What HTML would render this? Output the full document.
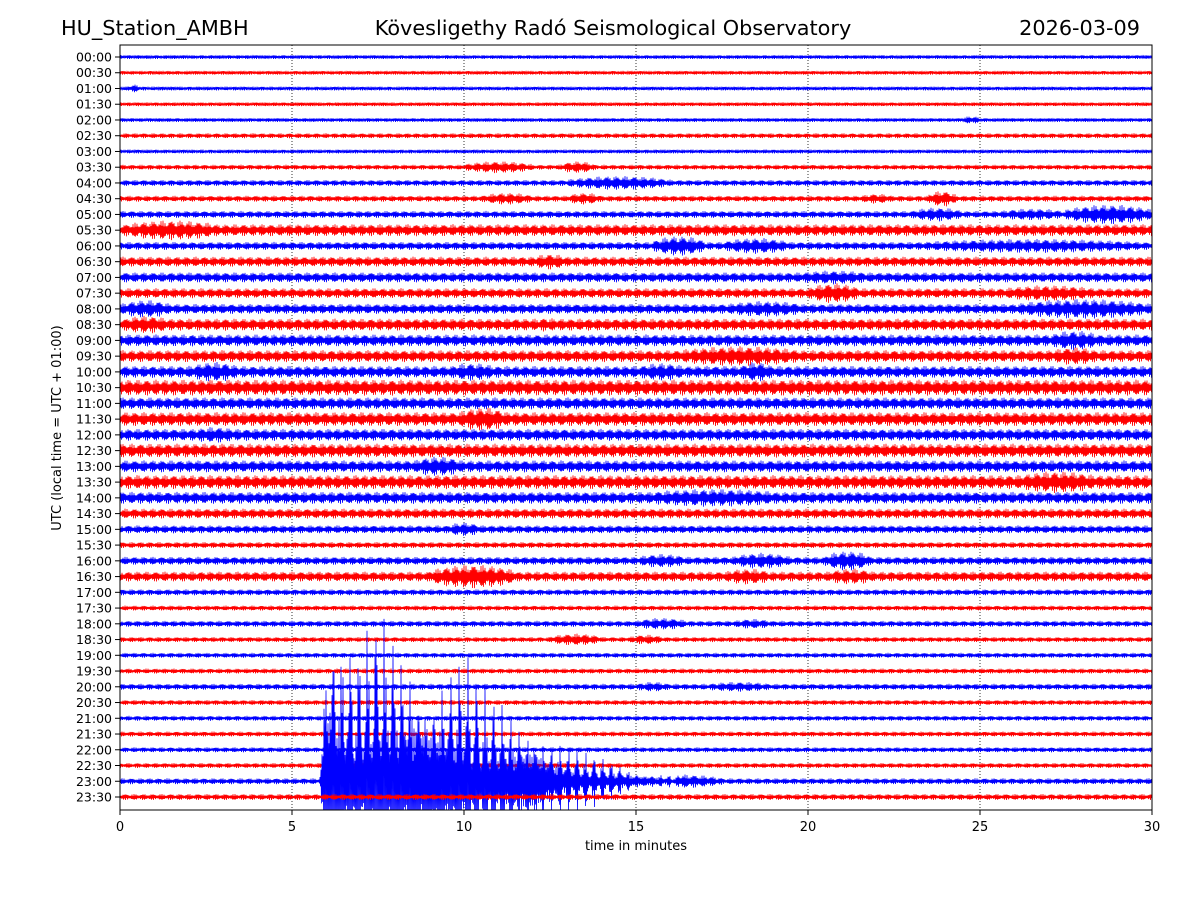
<!DOCTYPE html>
<html><head><meta charset="utf-8">
<style>
html,body{margin:0;background:#fff;overflow:hidden;width:1200px;height:900px;}
svg{display:block;font-family:"DejaVu Sans","Liberation Sans",sans-serif;}
</style></head>
<body>
<svg id="chart" width="1200" height="900" viewBox="0 0 1200 900">
<text x="61" y="35" font-size="20.8">HU_Station_AMBH</text>
<text x="613" y="35" font-size="20.8" text-anchor="middle">Kövesligethy Radó Seismological Observatory</text>
<text x="1140" y="35" font-size="20.8" text-anchor="end">2026-03-09</text>
<defs><clipPath id="pc"><rect x="120" y="45" width="1032" height="765"/></clipPath></defs>
<g id="grid"></g>
<g id="traces" clip-path="url(#pc)"></g>
<rect x="120" y="45" width="1032" height="765" fill="none" stroke="#000" stroke-width="1"/>
<g id="yaxis"></g>
<g id="xaxis"></g>
<text x="636" y="850" font-size="13" text-anchor="middle">time in minutes</text>
<text transform="translate(61,428) rotate(-90)" font-size="13" text-anchor="middle">UTC (local time = UTC + 01:00)</text>
</svg>
<script>
const rowLabels=[];for(let h=0;h<24;h++){for(const m of ["00","30"]){rowLabels.push(String(h).padStart(2,"0")+":"+m);}}
const xTicks=[0,5,10,15,20,25,30];
const baseAmp=[2,2,2,2,2,2.5,2,2.5,3,3,3.5,6,4,5,5,5,5,6,6,6,6,8,6,7,6,7,6,7,6,5,4,3,4,5,3,2.5,3,2.5,2.5,2.5,3,2.5,2.5,2.5,2.5,2.5,3,3];
// events: [row, startMin, endMin, amp]
const events=[[2,0.2,0.6,4],[4,24.5,25,4],[7,10,12,6],[7,12.8,13.8,6],[8,13,16,7],[9,10.5,12,6],[9,13,14,6],[9,21.5,22.5,5],[9,23.5,24.3,8],
[10,23,24.5,7],[10,25.5,27.5,6],[10,27.5,30,10],[11,0,3,10],[12,15.5,17,10],[12,17.5,19.5,8],[12,23,30,7],[13,12,13,8],[14,19.5,22,7],
[15,20,21.5,10],[15,25.5,28.5,8],[16,0,1.5,9],[16,17.5,20,8],[16,26,30,10],[17,0,1.5,9],[17,12,12.8,7],[18,27,28.5,10],[19,16,20,10],[19,27,28.5,9],
[20,2,3.5,10],[20,9.5,11,9],[20,15,16.5,9],[20,18,19,10],[23,9.8,11.3,12],[24,2,3.5,8],[26,8.5,10,10],[27,26,28.5,11],[28,15,19.5,9],[30,9.5,10.5,7],
[32,15,16.5,7],[32,17.8,19.5,8],[32,20.5,21.8,10],[33,9,11.5,12],[33,17.5,19,8],[33,20.5,22,8],[36,15,16.5,6],[36,17.8,19,5],[37,12.5,14,6],[37,14.8,15.8,5],
[40,15,16,5],[40,17,19,5],[46,15,17.5,7]];
// earthquake peak amplitudes (px) on the 23:00 row, by minute
const quakeMin=[5.8,6.0,6.5,7.0,7.5,8.0,8.5,9.0,9.5,10.0,10.5,11.0,11.5,12.0,12.5,13.0,13.5,14.0,14.5,15.0,16.0,17.0];
const quakeAmp=[0,210,160,150,190,170,150,120,135,140,100,90,80,70,50,40,30,25,20,12,8,3];
const quakeRow=46;

const NS="http://www.w3.org/2000/svg";
const X0=120,X1=1152,Y0=57,DY=(797-57)/47;
const xs=m=>X0+(X1-X0)*m/30;
const ys=r=>Y0+r*DY;
function mk(tag,attrs,parent){const e=document.createElementNS(NS,tag);for(const k in attrs)e.setAttribute(k,attrs[k]);parent.appendChild(e);return e;}
const grid=document.getElementById('grid'),xa=document.getElementById('xaxis'),ya=document.getElementById('yaxis'),tr=document.getElementById('traces');
xTicks.forEach(t=>{
 if(t>0&&t<30){const l=mk('line',{x1:xs(t),x2:xs(t),y1:45,y2:810,stroke:'#000','stroke-width':0.8,'stroke-dasharray':'1,2'},grid);
 
 }
 const tk=mk('line',{x1:xs(t),x2:xs(t),y1:810,y2:815,stroke:'#000'},xa);
 
 
 const tx=mk('text',{x:xs(t),y:831,'font-size':13,'text-anchor':'middle'},xa);tx.textContent=t;
 
 
});
rowLabels.forEach((lb,r)=>{
 const tk=mk('line',{x1:115,x2:120,y1:ys(r),y2:ys(r),stroke:'#000'},ya);
 
 
 const tx=mk('text',{x:112,y:ys(r)+4.5,'font-size':12.5,'text-anchor':'end'},ya);tx.textContent=lb;
 
 
});
function quakeAt(m){if(m<quakeMin[0])return 0;for(let i=0;i<quakeMin.length-1;i++){if(m>=quakeMin[i]&&m<quakeMin[i+1]){const f=(m-quakeMin[i])/(quakeMin[i+1]-quakeMin[i]);return quakeAmp[i]+(quakeAmp[i+1]-quakeAmp[i])*f;}}return 0;}
function envAt(r,m){let a=baseAmp[r];for(const e of events){if(e[0]===r&&m>=e[1]&&m<=e[2]){const c=(e[1]+e[2])/2,h=(e[2]-e[1])/2;const w=1-Math.pow((m-c)/(h||1),2)*0.5;a=Math.max(a,e[3]*w);}}
 return a;}
function drawRow(r){
 const col=r%2===0?'#0000ff':'#ff0000';const y=ys(r);let d='';
 const n=(X1-X0)*2;
 for(let i=0;i<=n;i++){const m=30*i/n;let a=envAt(r,m);
  let tex=0.35+0.65*Math.abs(Math.sin(i*0.731+r)*Math.cos(i*0.173+r*2.1));
  if(r===quakeRow){const q=quakeAt(m);if(q>a){const spike=Math.pow(Math.abs(Math.sin(m*Math.PI*4.1)),5);a=q*(0.38+0.62*spike);}}
  let yy=y+(i%2?1:-1)*a*tex;yy=Math.max(45,Math.min(810,yy));
  d+=(i?'L':'M')+(X0+i/2).toFixed(1)+','+yy.toFixed(1);}
 const p=mk('path',{d:d,fill:'none',stroke:col,'stroke-width':0.8},tr);
 
 
}
for(let r=0;r<48;r++)drawRow(r);
</script>
</body></html>
